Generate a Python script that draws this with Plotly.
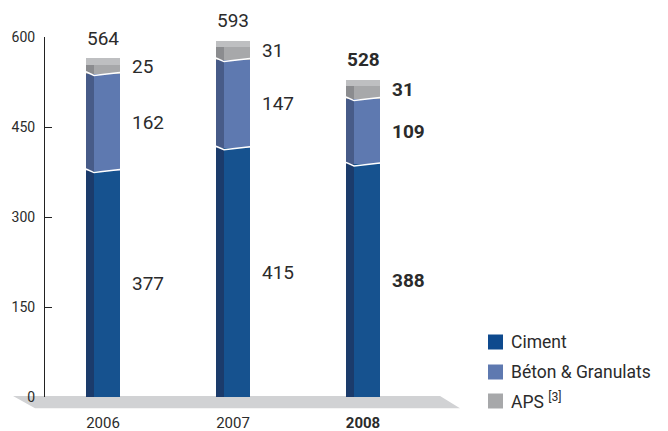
import plotly.graph_objects as go

years = ["2006", "2007", "2008"]
year_labels = ["2006", "2007", "<b>2008</b>"]
ciment = [377, 415, 388]
beton = [162, 147, 109]
aps = [25, 31, 31]
series_names = ["Ciment", "Béton & Granulats", "APS"]
y_ticks = [0, 150, 300, 450, 600]

front_colors = ["#16528f", "#5e79b0", "#a7a8aa"]
side_colors = ["#1b3b6b", "#475b88", "#8b8c8f"]
legend_colors = ["#0e4a8e", "#5e79b0", "#a7a8aa"]
cap_color = "#bebfc1"
txt = "#2b2b2b"
font_family = "Roboto, 'DejaVu Sans', sans-serif"

xpos = list(range(len(years)))
series = [ciment, beton, aps]
totals = [a + b + c for a, b, c in zip(ciment, beton, aps)]

SIDE_OFF, SIDE_W = -0.131, 0.064
FRONT_OFF, FRONT_W = -0.069, 0.2

fig = go.Figure()
base = [0] * len(years)
for vals, fc, sc in zip(series, front_colors, side_colors):
    fig.add_trace(go.Bar(x=xpos, y=vals, base=base, width=SIDE_W, offset=SIDE_OFF,
                         marker=dict(color=sc, line=dict(width=0)), showlegend=False,
                         hoverinfo="skip"))
    fig.add_trace(go.Bar(x=xpos, y=vals, base=base, width=FRONT_W, offset=FRONT_OFF,
                         marker=dict(color=fc, line=dict(width=0)), showlegend=False))
    base = [b + v for b, v in zip(base, vals)]

# top cap (lighter top face of the 3D block)
CAP = 11
fig.add_trace(go.Bar(x=xpos, y=[CAP] * len(years), base=[t - CAP + 1 for t in totals],
                     width=0.262, offset=SIDE_OFF,
                     marker=dict(color=cap_color, line=dict(width=0)), showlegend=False,
                     hoverinfo="skip"))

# white separators between segments
sep_x, sep_y = [], []
for i, x in enumerate(xpos):
    cum = 0
    for vals in series[:-1]:
        cum += vals[i]
        sep_x += [x + SIDE_OFF, x + FRONT_OFF, x + FRONT_OFF + FRONT_W, None]
        sep_y += [cum + 3, cum - 3, cum + 2, None]
fig.add_trace(go.Scatter(x=sep_x, y=sep_y, mode="lines", line=dict(color="white", width=1.5),
                         showlegend=False, hoverinfo="skip"))

annotations = []
for i, x in enumerate(xpos):
    bold = i == len(years) - 1
    def fmt(v):
        return f"<b>{v}</b>" if bold else str(v)
    annotations.append(dict(x=x, y=totals[i], xref="x", yref="y", text=fmt(totals[i]),
                            showarrow=False, yanchor="bottom", yshift=7,
                            font=dict(size=19, color=txt, family=font_family)))
    cum = 0
    for vals in series:
        mid = cum + vals[i] / 2
        cum += vals[i]
        annotations.append(dict(x=x + 0.21, y=mid, xref="x", yref="y", text=fmt(vals[i]),
                                showarrow=False, xanchor="left", yanchor="middle",
                                font=dict(size=19, color=txt, family=font_family)))

# floor and manual legend
shapes = [dict(type="path", xref="paper", yref="paper",
               path="M -0.077 0.003 L 0.952 0.003 L 1.0 -0.031 L -0.024 -0.031 Z",
               fillcolor="#d1d2d4", line=dict(width=0), layer="below")]
leg_labels = ["Ciment", "Béton & Granulats", "APS <sup>[3]</sup>"]
leg_y = [342, 372, 401]
for lab, col, py in zip(leg_labels, legend_colors, leg_y):
    shapes.append(dict(type="rect", xref="paper", yref="paper",
                       x0=(488 - 45) / 415, x1=(503 - 45) / 415,
                       y0=(397 - (py + 7.5)) / 360, y1=(397 - (py - 7.5)) / 360,
                       fillcolor=col, line=dict(width=0)))
    annotations.append(dict(x=(509 - 45) / 415, y=(397 - py) / 360, xref="paper", yref="paper",
                            text=lab, showarrow=False, xanchor="left", yanchor="middle",
                            font=dict(size=17.5, color=txt, family=font_family)))

fig.update_layout(
    width=668, height=431,
    margin=dict(l=45, r=208, t=37, b=34, autoexpand=False),
    paper_bgcolor="white", plot_bgcolor="rgba(0,0,0,0)",
    barmode="overlay", bargap=0,
    showlegend=False,
    shapes=shapes, annotations=annotations,
    font=dict(family=font_family, color=txt),
    xaxis=dict(range=[-0.446, 2.746], tickvals=xpos, ticktext=year_labels,
               showgrid=False, zeroline=False, showline=False, ticks="", automargin=False,
               tickfont=dict(size=15, color=txt), ticklabelstandoff=15),
    yaxis=dict(range=[0, 600], tickvals=y_ticks, showgrid=False, zeroline=False, automargin=False,
               showline=True, linecolor="#222", linewidth=1, ticks="inside", ticklen=7,
               tickcolor="#222", tickfont=dict(size=14, color=txt), ticklabelstandoff=6),
)

fig.write_html("out.html", config={"displayModeBar": False},
               post_script="document.body.style.margin='0';")
